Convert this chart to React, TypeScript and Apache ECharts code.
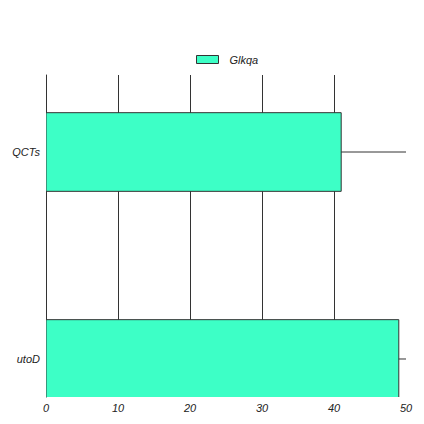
import React, { useEffect, useRef } from "react";
import * as echarts from "echarts";

const categories = ["utoD", "QCTs"];
const values = [49, 41];
const seriesName = "Glkqa";
const xTicks = [0, 10, 20, 30, 40, 50];

const BAR_COLOR = "#3dffc6";
const LINE_COLOR = "#333333";
const FONT = "'Liberation Sans', Arial, sans-serif";

export default function App() {
  const ref = useRef<HTMLDivElement>(null);
  useEffect(() => {
    if (!ref.current) return;
    const chart = echarts.init(ref.current, null, { renderer: "svg" });
    const data = values.map((v, i) => [v, i]);
    const half = 0.19;
    chart.setOption({
      animation: false,
      legend: {
        top: 54,
        left: 196,
        padding: 0,
        itemWidth: 22,
        itemHeight: 8,
        textStyle: { fontFamily: FONT, fontStyle: "italic", fontSize: 11, color: "#222", padding: [0, 0, 0, 6] },
        data: [
          {
            name: seriesName,
            icon: "rect",
            itemStyle: { color: BAR_COLOR, borderColor: LINE_COLOR, borderWidth: 1 },
          },
        ],
      },
      grid: { left: 46, right: 18, top: 75, bottom: 27, containLabel: false },
      xAxis: {
        type: "value",
        min: xTicks[0],
        max: xTicks[xTicks.length - 1],
        interval: 10,
        axisLine: { show: false },
        axisTick: { show: false },
        axisLabel: {
          fontFamily: FONT,
          fontStyle: "italic",
          fontSize: 11,
          color: "#222",
          margin: 5,
          showMinLabel: true,
          showMaxLabel: true,
        },
        splitLine: {
          show: true,
          showMinLine: false,
          showMaxLine: false,
          lineStyle: { color: LINE_COLOR, width: 1 },
        },
      },
      yAxis: {
        type: "value",
        min: -0.1836,
        max: 1.372,
        axisLine: { show: true, onZero: false, lineStyle: { color: LINE_COLOR, width: 1 } },
        axisTick: { show: false, customValues: [0, 1] },
        axisLabel: {
          customValues: [0, 1],
          formatter: (v: number) => categories[Math.round(v)] ?? "",
          fontFamily: FONT,
          fontStyle: "italic",
          fontSize: 11,
          color: "#222",
          margin: 6,
        },
        splitLine: { show: false },
      },
      series: [
        {
          name: seriesName,
          type: "custom",
          itemStyle: { color: BAR_COLOR, borderColor: LINE_COLOR, borderWidth: 1 },
          clip: true,
          renderItem: (params: any, api: any) => {
            const v = api.value(0);
            const y = api.value(1);
            const p0 = api.coord([0, y + half]);
            const p1 = api.coord([v, y - half]);
            const l0 = api.coord([xTicks[0], y]);
            const l1 = api.coord([xTicks[xTicks.length - 1], y]);
            return {
              type: "group",
              children: [
                {
                  type: "line",
                  shape: { x1: l0[0], y1: l0[1], x2: l1[0], y2: l1[1] },
                  style: { stroke: LINE_COLOR, lineWidth: 1 },
                },
                {
                  type: "rect",
                  shape: { x: p0[0], y: p0[1], width: p1[0] - p0[0], height: p1[1] - p0[1] },
                  style: { fill: BAR_COLOR, stroke: LINE_COLOR, lineWidth: 1 },
                },
              ],
            };
          },
          encode: { x: 0, y: 1 },
          data,
        },
      ],
    });
    return () => chart.dispose();
  }, []);
  return <div ref={ref} style={{ position: "absolute", left: 0, top: 0, width: 424, height: 424 }} />;
}
